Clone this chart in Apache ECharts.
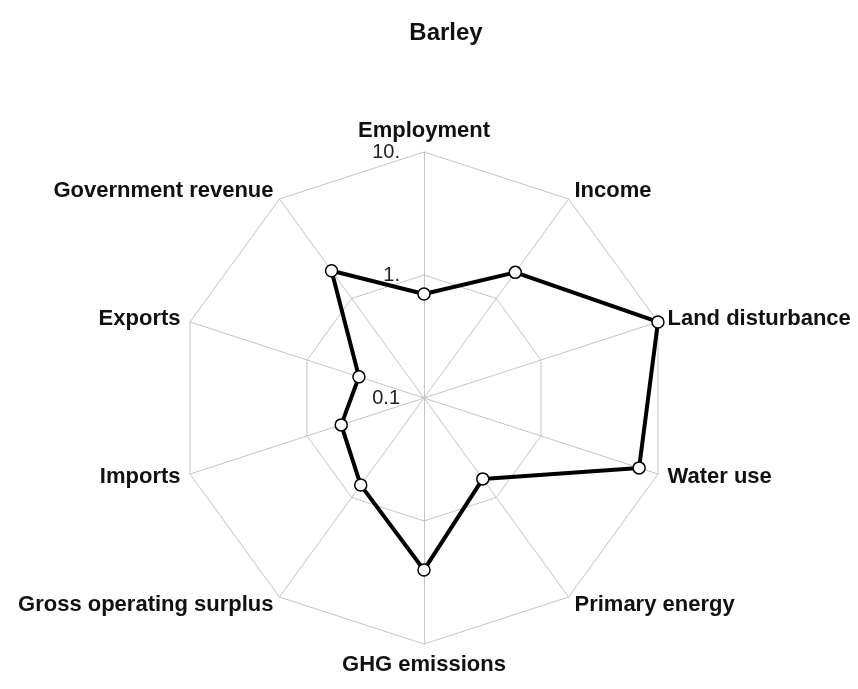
<!DOCTYPE html>
<html>
<head>
<meta charset="utf-8">
<title>Barley</title>
<script src="https://cdn.jsdelivr.net/npm/echarts@6/dist/echarts.min.js"></script>
<style>
  html, body { margin: 0; padding: 0; background: #fff; }
  #chart { width: 858px; height: 689px; }
</style>
</head>
<body>
<div id="chart"></div>
<script>
// indicators, clockwise from the top
var categories = ['Employment', 'Income', 'Land disturbance', 'Water use', 'Primary energy',
  'GHG emissions', 'Gross operating surplus', 'Imports', 'Exports', 'Government revenue'];
// values (0.1 .. 10)
var barleyValues = [0.7, 1.83, 10, 6.9, 0.65, 2.5, 0.75, 0.51, 0.36, 1.9];
// rings of the log axis
var tickValues = [0.1, 1, 10];
var tickLabels = ['0.1', '1.', '10.'];

// echarts places radar indicators counter-clockwise, so walk the list backwards after the first one
var order = [0];
for (var i = categories.length - 1; i > 0; i--) order.push(i);

var logMin = Math.log10(tickValues[0]);
var logMax = Math.log10(tickValues[tickValues.length - 1]);

var indicator = order.map(function (k, j) {
  var ind = { name: categories[k], min: logMin, max: logMax };
  if (j === 0) ind.axisLabel = { show: true };   // tick labels only on the top axis
  return ind;
});
var seriesData = order.map(function (k) { return Math.log10(barleyValues[k]); });

var chart = echarts.init(document.getElementById('chart'));
var option = {
  backgroundColor: '#fff',
  title: {
    text: 'Barley',
    left: 441,
    top: 16,
    textAlign: 'center',
    textStyle: { fontFamily: 'Liberation Sans', fontWeight: 'bold', fontSize: 24, color: '#111' }
  },
  radar: {
    center: [424, 398],
    radius: 246,
    startAngle: 90,
    splitNumber: tickValues.length - 1,
    shape: 'polygon',
    indicator: indicator,
    axisName: {
      color: '#111',
      fontFamily: 'Liberation Sans',
      fontWeight: 'bold',
      fontSize: 22
    },
    nameGap: 10,
    axisLine: { lineStyle: { color: '#c4c4c4', width: 1 } },
    splitLine: { lineStyle: { color: '#c4c4c4', width: 1 } },
    splitArea: { show: false },
    axisTick: { show: false },
    axisLabel: {
      show: false,
      color: '#222',
      fontFamily: 'Liberation Sans',
      fontSize: 20,
      margin: 24,
      showMinLabel: true,
      formatter: function (v) {
        for (var t = 0; t < tickValues.length; t++) {
          if (Math.abs(Math.log10(tickValues[t]) - v) < 1e-6) return tickLabels[t];
        }
        return '';
      }
    }
  },
  series: [{
    name: 'Barley',
    type: 'radar',
    symbol: 'circle',
    symbolSize: 12,
    itemStyle: { color: '#fff', borderColor: '#000', borderWidth: 1.5 },
    lineStyle: { color: '#000', width: 4 },
    data: [{ value: seriesData, name: 'Barley' }]
  }]
};
chart.setOption(option);
</script>
</body>
</html>
